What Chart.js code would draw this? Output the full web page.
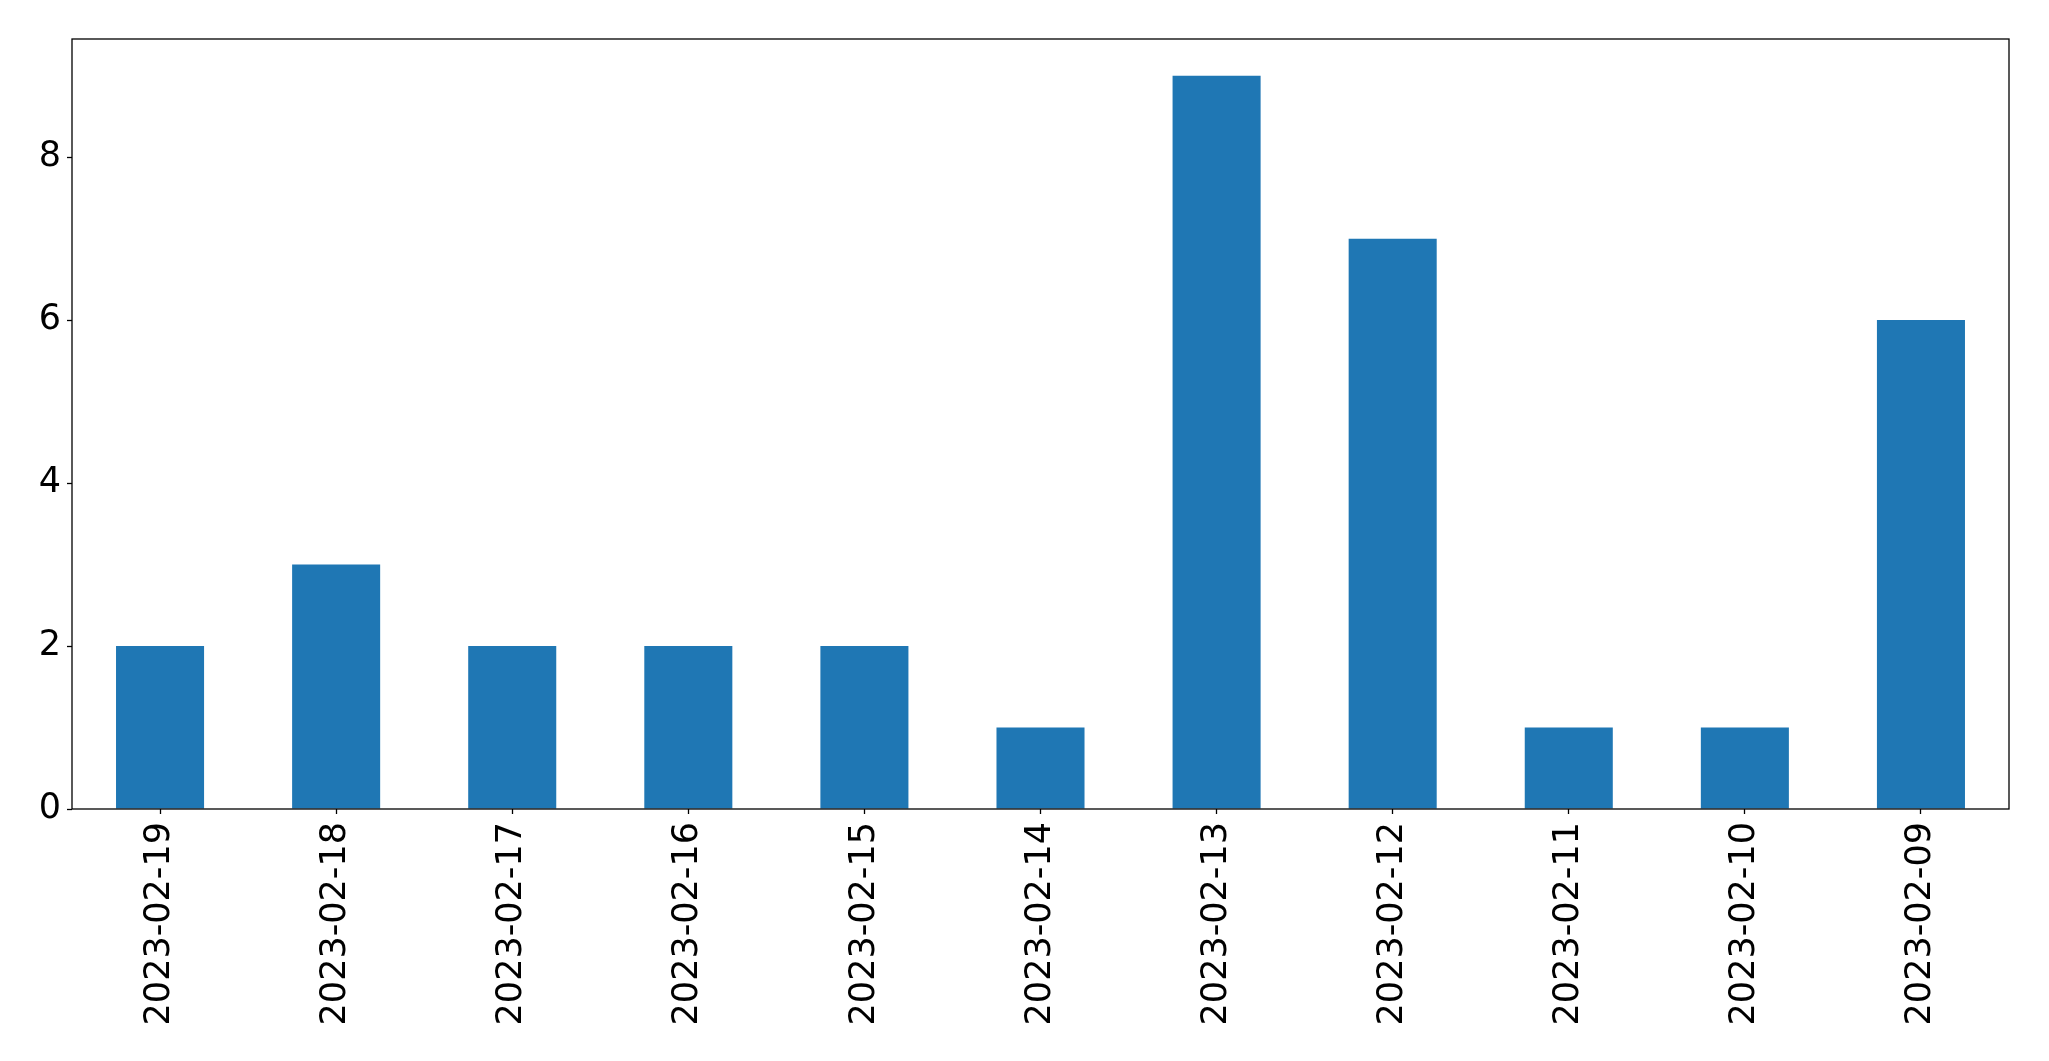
<!DOCTYPE html>
<html>
<head>
<meta charset="utf-8">
<script src="https://cdn.jsdelivr.net/npm/chart.js@4/dist/chart.umd.min.js"></script>
<style>
html,body{margin:0;padding:0;background:#fff;}
#wrap{width:2049px;height:1061px;position:relative;}
</style>
</head>
<body>
<div id="wrap"><canvas id="c" width="2049" height="1061"></canvas></div>
<script>
const categories = ["2023-02-19","2023-02-18","2023-02-17","2023-02-16","2023-02-15","2023-02-14","2023-02-13","2023-02-12","2023-02-11","2023-02-10","2023-02-09"];
const counts = [2,3,2,2,2,1,9,7,1,1,6];
const yTicks = [0,2,4,6,8];

const frame = {
  id:'frame',
  afterDatasetsDraw(chart){
    const a = chart.chartArea, ctx = chart.ctx;
    ctx.save();
    ctx.strokeStyle = '#000';
    ctx.lineWidth = 1.3;
    ctx.strokeRect(a.left, a.top, a.right - a.left, a.bottom - a.top);
    ctx.restore();
  }
};

new Chart(document.getElementById('c'), {
  type: 'bar',
  data: {
    labels: categories,
    datasets: [{
      data: counts,
      backgroundColor: '#1f77b4',
      borderWidth: 0,
      barPercentage: 0.5,
      categoryPercentage: 1.0
    }]
  },
  options: {
    responsive: false,
    animation: false,
    devicePixelRatio: 1,
    layout: { padding: { top: 39, right: 40, left: 0, bottom: 0 } },
    plugins: { legend: { display: false }, tooltip: { enabled: false } },
    scales: {
      x: {
        grid: { display: true, drawOnChartArea: false, drawTicks: true, tickLength: 5, tickColor: '#000', offset: false, tickWidth: 1.3 },
        border: { display: false },
        ticks: {
          color: '#000', font: { family: 'DejaVu Sans', size: 35 },
          minRotation: 90, maxRotation: 90, padding: 8, autoSkip: false
        },
        afterFit(s){ s.height = 252; }
      },
      y: {
        min: 0, max: 9.45,
        grid: { display: true, drawOnChartArea: false, drawTicks: true, tickLength: 5, tickColor: '#000', tickWidth: 1.3 },
        border: { display: false },
        afterBuildTicks(s){ s.ticks = yTicks.map(v => ({ value: v })); },
        ticks: { color: '#000', font: { family: 'DejaVu Sans', size: 35 }, padding: 6 },
        afterFit(s){ s.width = 72; }
      }
    }
  },
  plugins: [frame]
});
</script>
</body>
</html>
